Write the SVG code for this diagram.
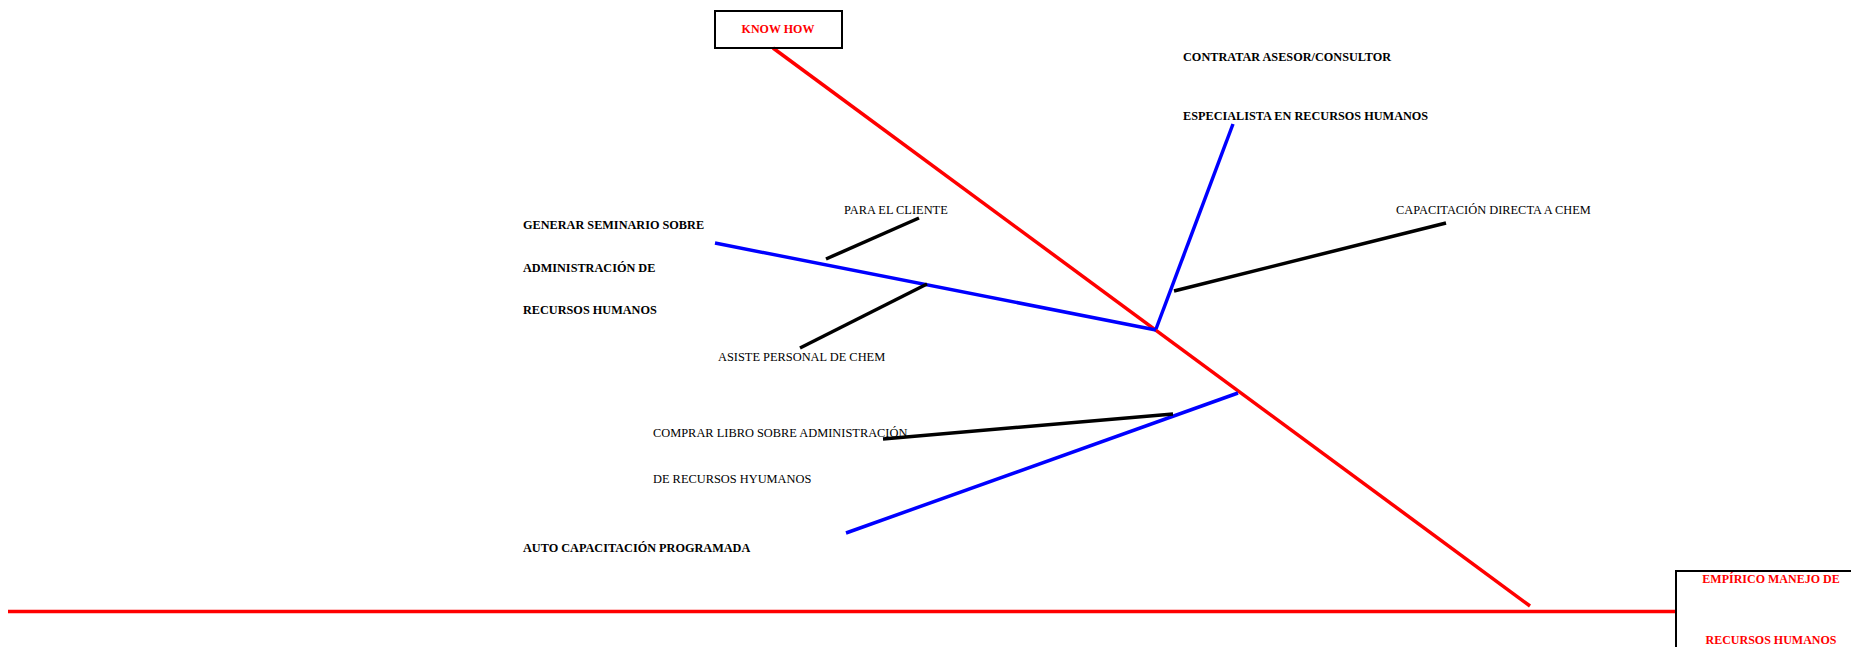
<svg xmlns="http://www.w3.org/2000/svg" width="1851" height="647" viewBox="0 0 1851 647">
  <style>
    .bg { fill: #ffffff; }
    .box { fill: none; stroke: #000000; stroke-width: 2; }
    .spine { stroke: #ff0000; stroke-width: 3.5; fill: none; }
    .cause { stroke: #0000ff; stroke-width: 3.5; fill: none; }
    .sub { stroke: #000000; stroke-width: 3.5; fill: none; }
    text { font-family: "Liberation Serif", "Times New Roman", serif; font-size: 12.4px; fill: #000000; }
    .b { font-weight: bold; font-size: 12.25px; }
    .red { fill: #ff0000; font-weight: bold; font-size: 12px; }
    .mid { text-anchor: middle; }
  </style>
  <rect class="bg" x="0" y="0" width="1851" height="647"/>

  <!-- connectors: spine, main causes, sub causes -->
  <g id="connectors">
    <line class="spine" x1="8" y1="611.5" x2="1677" y2="611.5"/>
    <line class="spine" x1="773" y1="48" x2="1530" y2="606"/>
    <line class="cause" x1="715" y1="243" x2="1156" y2="330"/>
    <line class="cause" x1="1156" y1="329" x2="1233" y2="124"/>
    <line class="cause" x1="846" y1="533" x2="1238" y2="393"/>
    <line class="sub" x1="826" y1="259" x2="919" y2="218"/>
    <line class="sub" x1="800" y1="348" x2="927" y2="284"/>
    <line class="sub" x1="1174" y1="291" x2="1446" y2="223"/>
    <line class="sub" x1="883" y1="439" x2="1173" y2="414"/>
  </g>

  <g id="know-how">
    <rect class="box" x="715" y="11" width="127" height="37"/>
    <text class="red mid" x="778" y="33">KNOW HOW</text>
  </g>

  <g id="effect">
    <rect class="box" x="1676" y="571" width="190" height="90"/>
    <text class="red mid" x="1771" y="583">EMPÍRICO MANEJO DE</text>
    <text class="red mid" x="1771" y="644">RECURSOS HUMANOS</text>
  </g>

  <g id="contratar">
    <text class="b" x="1183" y="61">CONTRATAR ASESOR/CONSULTOR</text>
    <text class="b" x="1183" y="120">ESPECIALISTA EN RECURSOS HUMANOS</text>
  </g>

  <g id="capacitacion-directa">
    <text x="1396" y="214">CAPACITACIÓN DIRECTA A CHEM</text>
  </g>

  <g id="seminario">
    <text class="b" x="523" y="229">GENERAR SEMINARIO SOBRE</text>
    <text class="b" x="523" y="272">ADMINISTRACIÓN DE</text>
    <text class="b" x="523" y="314">RECURSOS HUMANOS</text>
  </g>

  <g id="para-cliente">
    <text x="844" y="214">PARA EL CLIENTE</text>
  </g>

  <g id="asiste-personal">
    <text x="718" y="361">ASISTE PERSONAL DE CHEM</text>
  </g>

  <g id="comprar-libro">
    <text x="653" y="437">COMPRAR LIBRO SOBRE ADMINISTRACIÓN</text>
    <text x="653" y="483">DE RECURSOS HYUMANOS</text>
  </g>

  <g id="auto-capacitacion">
    <text class="b" x="523" y="552">AUTO CAPACITACIÓN PROGRAMADA</text>
  </g>
</svg>
